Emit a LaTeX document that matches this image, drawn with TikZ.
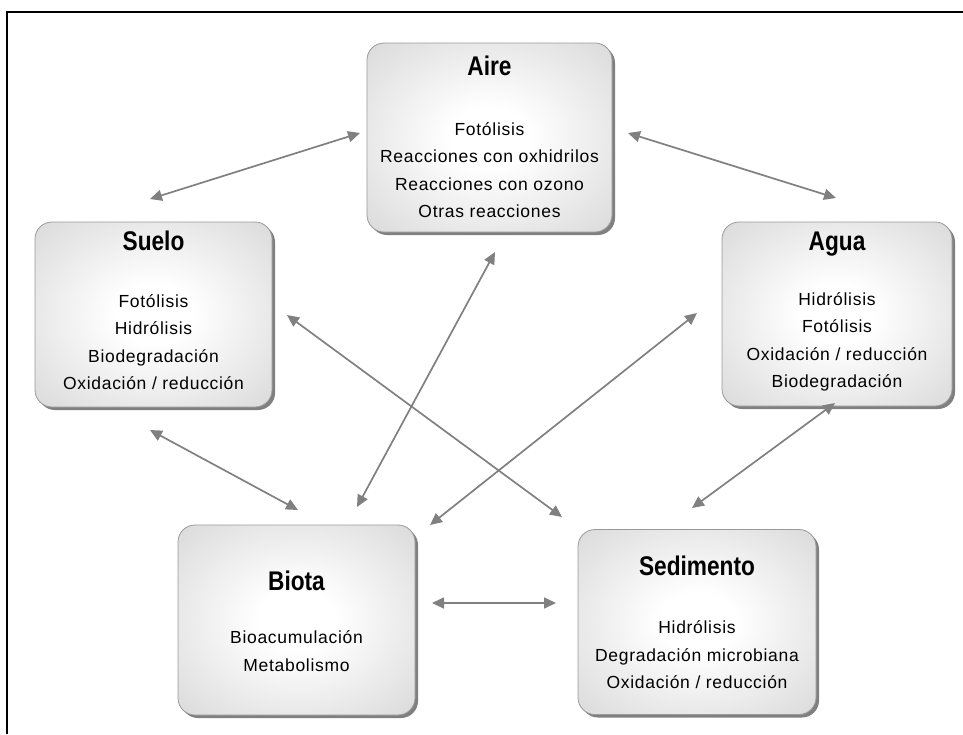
\documentclass[tikz,border=0pt]{standalone}
\usepackage{fontspec}
\setmainfont{Liberation Sans}
\newfontfamily\titlefont{Liberation Sans}[FakeStretch=0.84]
\newfontfamily\itemfont{Liberation Sans}[LetterSpace=4]
\usetikzlibrary{arrows.meta,shadows}

% soft light-gray fill, white in the middle
\pgfdeclareradialshading{boxshade}{\pgfpoint{0bp}{0bp}}{%
  color(0bp)=(white); color(8bp)=(white); color(46bp)=(black!20); color(72bp)=(black!22)}

\begin{document}
\begin{tikzpicture}[x=1pt,y=-1pt,
  envbox/.style={draw=black!40, line width=0.8pt, rounded corners=17pt,
    shading=boxshade,
    drop shadow={shadow xshift=3pt, shadow yshift=-3pt, fill=black!50, opacity=1}},
  boxtitle/.style={anchor=base, inner sep=0pt,
    font=\titlefont\bfseries\fontsize{27}{30}\selectfont},
  boxitems/.style={align=center, inner sep=0pt,
    font=\itemfont\fontsize{17.5}{27.5}\selectfont},
  conn/.style={draw=black!50, line width=1.7pt,
    {Triangle[length=12pt,width=11pt]}-{Triangle[length=12pt,width=11pt]}},
  frameline/.style={draw=black, line width=2.4pt}]

\useasboundingbox (0,0) rectangle (963,734);

% frame: top and left rules
\coordinate (ftl) at (7,12);
\coordinate (ftr) at (963,12);
\coordinate (fbl) at (7,734);
\draw[frameline] (ftr) -- (ftl) -- (fbl);

% compartments
\node[envbox, minimum width=245pt, minimum height=189pt] (aire) at (489.5,137.5) {};
\node[envbox, minimum width=237pt, minimum height=185pt] (suelo) at (153.5,314.5) {};
\node[envbox, minimum width=230pt, minimum height=184pt] (agua) at (837,314) {};
\node[envbox, minimum width=237pt, minimum height=190pt] (biota) at (296.5,620) {};
\node[envbox, minimum width=238pt, minimum height=185pt] (sedimento) at (697,622) {};

% titles
\node[boxtitle] (tAire) at (489.5,75) {Aire};
\node[boxtitle] (tSuelo) at (153.5,250) {Suelo};
\node[boxtitle] (tAgua) at (837,250) {Agua};
\node[boxtitle] (tBiota) at (296.5,590) {Biota};
\node[boxtitle] (tSedimento) at (697,575) {Sedimento};

% processes
\node[boxitems] (iAire) at (489.5,170) {Fotólisis\\Reacciones con oxhidrilos\\Reacciones con ozono\\Otras reacciones};
\node[boxitems] (iSuelo) at (153.5,342) {Fotólisis\\Hidrólisis\\Biodegradación\\Oxidación / reducción};
\node[boxitems] (iAgua) at (837,342) {Hidrólisis\\Fotólisis\\Oxidación / reducción\\Biodegradación};
\node[boxitems] (iBiota) at (296.5,651) {Bioacumulación\\Metabolismo};
\node[boxitems] (iSedimento) at (697,655) {Hidrólisis\\Degradación microbiana\\Oxidación / reducción};

% arrow end points
\coordinate (aireW) at (360,133);   \coordinate (sueloN) at (150,199);
\coordinate (aireE) at (628,133);   \coordinate (aguaN) at (836,198);
\coordinate (aireS) at (495,252);   \coordinate (biotaN) at (357,507);
\coordinate (sueloE) at (287,315);  \coordinate (sedimentoN) at (562,517);
\coordinate (aguaW) at (697,313);   \coordinate (biotaNE) at (430,525);
\coordinate (sueloS) at (150,430);  \coordinate (biotaNW) at (298,510);
\coordinate (aguaS) at (835,403);   \coordinate (sedimentoNE) at (692,508);
\coordinate (biotaE) at (432,603);  \coordinate (sedimentoW) at (556,603);

% exchanges between compartments
\draw[conn] (aireW) -- (sueloN);
\draw[conn] (aireE) -- (aguaN);
\draw[conn] (aireS) -- (biotaN);
\draw[conn] (sueloE) -- (sedimentoN);
\draw[conn] (aguaW) -- (biotaNE);
\draw[conn] (sueloS) -- (biotaNW);
\draw[conn] (aguaS) -- (sedimentoNE);
\draw[conn] (biotaE) -- (sedimentoW);
\end{tikzpicture}
\end{document}
